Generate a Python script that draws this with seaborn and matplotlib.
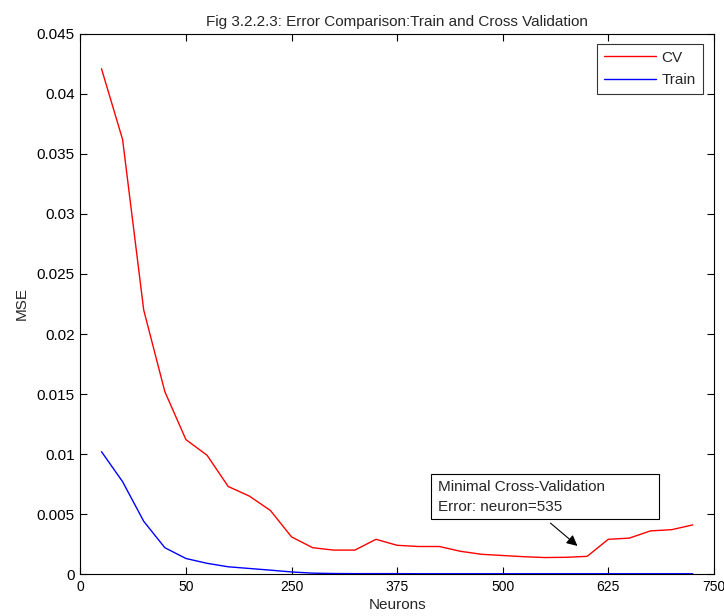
import matplotlib
matplotlib.use("Agg")
import matplotlib.pyplot as plt
from matplotlib.patches import Rectangle
import seaborn as sns
import pandas as pd

neurons = [25, 50, 75, 100, 125, 150, 175, 200, 225, 250, 275, 300, 325, 350, 375,
           400, 425, 450, 475, 500, 525, 550, 575, 600, 625, 650, 675, 700, 725]
cv_mse = [0.0421, 0.0362, 0.0220, 0.0152, 0.0112, 0.0099, 0.0073, 0.0065, 0.0053, 0.0031,
          0.0022, 0.0020, 0.0020, 0.0029, 0.0024, 0.0023, 0.0023, 0.0019, 0.00165, 0.00155,
          0.00145, 0.00138, 0.00140, 0.00148, 0.0029, 0.0030, 0.0036, 0.0037, 0.0041]
train_mse = [0.0102, 0.0077, 0.0044, 0.0022, 0.0013, 0.0009, 0.00061, 0.00047, 0.00033, 0.00018,
             0.00008, 0.00005, 0.00004, 0.00004, 0.00004, 0.00003, 0.00003, 0.00003, 0.00003, 0.00003,
             0.00003, 0.00003, 0.00003, 0.00003, 0.00003, 0.00003, 0.00003, 0.00003, 0.00003]
series_names = ["CV", "Train"]
series_colors = ["#ff0000", "#0000ff"]
x_ticks = [0, 125, 250, 375, 500, 625, 750]
x_tick_labels = ["0", "50", "250", "375", "500", "625", "750"]
y_ticks = [0, 0.005, 0.01, 0.015, 0.02, 0.025, 0.03, 0.035, 0.04, 0.045]
y_tick_labels = ["0", "0.005", "0.01", "0.015", "0.02", "0.025", "0.03", "0.035", "0.04", "0.045"]
title = "Fig 3.2.2.3: Error Comparison:Train and Cross Validation"
note_lines = ["Minimal Cross-Validation", "Error: neuron=535"]

df = pd.DataFrame({
    "Neurons": neurons * 2,
    "MSE": cv_mse + train_mse,
    "Series": [series_names[0]] * len(neurons) + [series_names[1]] * len(neurons),
})

sns.set_theme(style="white")
plt.rcParams["font.family"] = ["Liberation Sans", "DejaVu Sans"]

fig = plt.figure(figsize=(7.24, 6.16), dpi=100)
ax = fig.add_axes([0.111, 0.068, 0.875, 0.877])

sns.lineplot(data=df, x="Neurons", y="MSE", hue="Series",
             palette=dict(zip(series_names, series_colors)),
             linewidth=1.0, ax=ax, legend=True)

ax.set_xlim(0, 750)
ax.set_ylim(0, 0.045)
ax.set_xticks(x_ticks)
ax.set_xticklabels(x_tick_labels)
ax.set_yticks(y_ticks)
ax.set_yticklabels(y_tick_labels)
ax.tick_params(direction="in", length=5, width=0.8, colors="black",
               top=True, right=True, bottom=True, left=True, pad=4)
ax.tick_params(axis="y", labelsize=11)
ax.tick_params(axis="x", labelsize=10)
for s in ax.spines.values():
    s.set_color("black")
    s.set_linewidth(0.8)
ax.set_xlabel("Neurons", fontsize=11, labelpad=3)
ax.set_ylabel("MSE", fontsize=11, labelpad=6)
ax.set_title(title, fontsize=11, pad=6)

leg = ax.legend(loc="upper right", fontsize=11, frameon=True, fancybox=False,
                edgecolor="black", handlelength=3.4, borderpad=0.45,
                labelspacing=0.55, borderaxespad=0, handletextpad=0.4,
                bbox_to_anchor=(0.9826, 0.9815))
leg.get_frame().set_linewidth(0.8)

ax.add_patch(Rectangle((415, 0.00458), 270, 0.00375, facecolor="white",
                       edgecolor="black", linewidth=0.8, zorder=5))
ax.text(423, 0.00725, note_lines[0], fontsize=11, ha="left", va="center", zorder=6)
ax.text(423, 0.00558, note_lines[1], fontsize=11, ha="left", va="center", zorder=6)
ax.annotate("", xy=(591, 0.0022), xytext=(554, 0.0044),
            arrowprops=dict(arrowstyle="-|>", color="black", lw=0.8, mutation_scale=16))

fig.savefig("out.png", dpi=100)
